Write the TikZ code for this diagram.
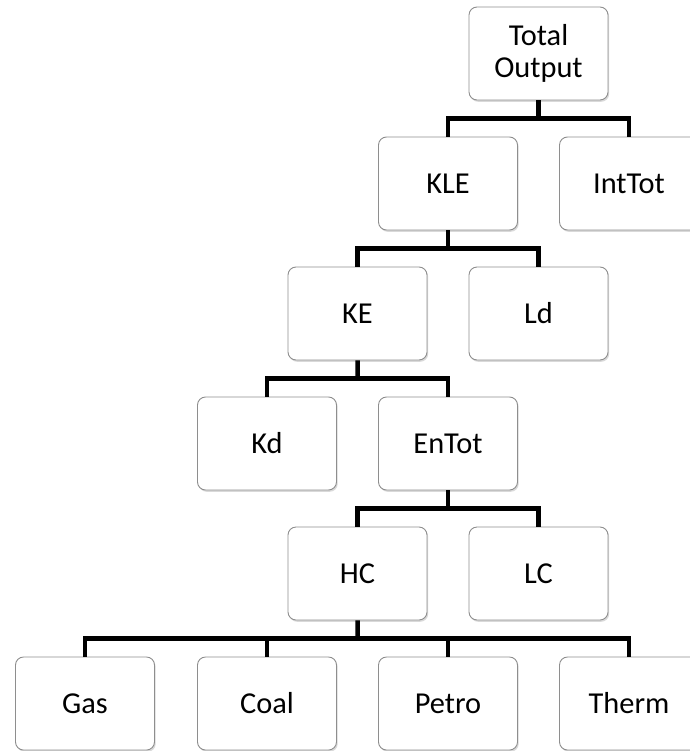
\documentclass[tikz,border=0pt]{standalone}
\usepackage{fontspec}
\setmainfont{Carlito}
\usepackage{tikz}
\usetikzlibrary{calc,shadows}
\definecolor{edge}{HTML}{8E8E8E}
\tikzset{
  box/.style={draw=edge, line width=0.9pt, rounded corners=8bp, fill=white,
    minimum width=139bp, minimum height=93bp, inner sep=0pt, align=center,
    font=\fontsize{30.5}{32}\selectfont,
    drop shadow={opacity=0.3, shadow xshift=1.2bp, shadow yshift=-1.8bp}},
  word/.style={box, text height=24bp, text depth=5bp},
  conn/.style={draw=black, line width=4.5bp, line join=miter},
}
\begin{document}
\begin{tikzpicture}[x=1bp,y=-1bp]
  \useasboundingbox (0,0) rectangle (690,751);
  % tree levels
  \node[box,execute at begin node={\rule[-5bp]{0pt}{24bp}}]
                       (TotOut) at (538.5, 53.5) {Total\\Output};
  \node[word] (KLE)    at (448,  183.5) {KLE};
  \node[word] (IntTot) at (629,  183.5) {IntTot};
  \node[word] (KE)     at (357.5,313.5) {KE};
  \node[word] (Ld)     at (538.5,313.5) {Ld};
  \node[word] (Kd)     at (267,  443.5) {Kd};
  \node[word] (EnTot)  at (448,  443.5) {EnTot};
  \node[word] (HC)     at (357.5,573.5) {HC};
  \node[word] (LC)     at (538.5,573.5) {LC};
  \node[word] (Gas)    at (85,   703.5) {Gas};
  \node[word] (Coal)   at (267,  703.5) {Coal};
  \node[word] (Petro)  at (448,  703.5) {Petro};
  \node[word] (Therm)  at (629,  703.5) {Therm};

  % junctions
  \coordinate (j1) at ($(TotOut.south)!0.5!(TotOut.south|-KLE.north)$);
  \coordinate (j2) at ($(KLE.south)!0.5!(KLE.south|-KE.north)$);
  \coordinate (j3) at ($(KE.south)!0.5!(KE.south|-Kd.north)$);
  \coordinate (j4) at ($(EnTot.south)!0.5!(EnTot.south|-HC.north)$);
  \coordinate (j5) at ($(HC.south)!0.5!(HC.south|-Gas.north)$);

  \draw[conn] (TotOut.south) -- (j1);
  \draw[conn] (KLE.north) |- (j1) -| (IntTot.north);
  \draw[conn] (KLE.south) -- (j2);
  \draw[conn] (KE.north) |- (j2) -| (Ld.north);
  \draw[conn] (KE.south) -- (j3);
  \draw[conn] (Kd.north) |- (j3) -| (EnTot.north);
  \draw[conn] (EnTot.south) -- (j4);
  \draw[conn] (HC.north) |- (j4) -| (LC.north);
  \draw[conn] (HC.south) -- (j5);
  \draw[conn] (Gas.north) |- (j5) -| (Therm.north);
  \draw[conn] (Coal.north) -- (Coal.north|-j5);
  \draw[conn] (Petro.north) -- (Petro.north|-j5);
\end{tikzpicture}
\end{document}
